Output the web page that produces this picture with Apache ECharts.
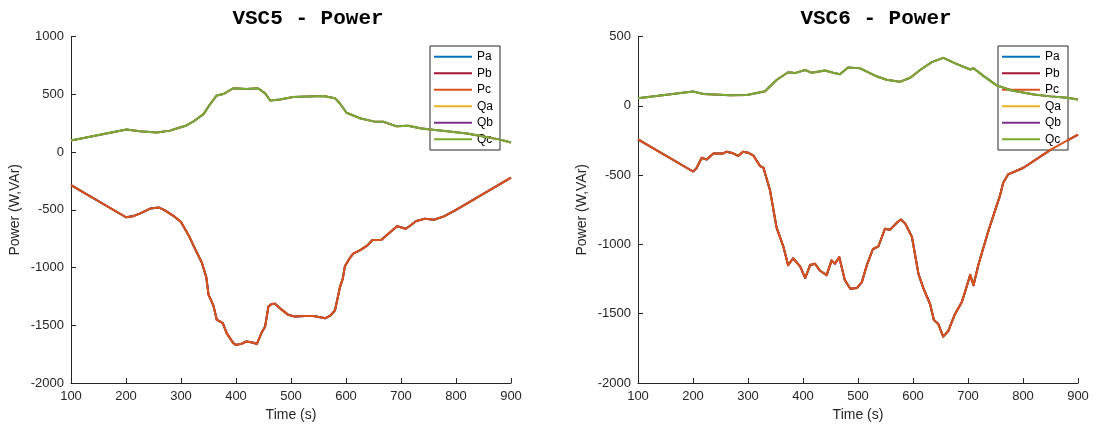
<!DOCTYPE html>
<html>
<head>
<meta charset="utf-8">
<script src="https://cdn.jsdelivr.net/npm/echarts@6/dist/echarts.min.js"></script>
<style>
  html, body { margin: 0; padding: 0; background: #fff; }
</style>
</head>
<body>
<div id="main" style="width:1096px;height:427px;"></div>

<script type="text/javascript">
// VSC5 - active power (Pa, Pb, Pc overlap)
var vsc5_p_t = [100, 200, 212, 225, 244, 260, 270, 289, 300, 314, 324, 338, 346, 350, 359, 365, 376, 383, 395, 400, 410, 419, 430, 438, 447, 453, 459, 465, 471, 483, 495, 507, 525, 541, 555, 562, 572, 580, 589, 594, 598, 606, 613, 626, 639, 648, 664, 677, 693, 709, 728, 744, 760, 778, 797, 900];
var vsc5_p   = [-287, -565, -557, -533, -490, -481, -504, -562, -606, -722, -823, -959, -1084, -1235, -1330, -1452, -1481, -1568, -1655, -1670, -1660, -1640, -1650, -1662, -1560, -1510, -1337, -1315, -1313, -1365, -1410, -1425, -1420, -1420, -1432, -1440, -1415, -1370, -1170, -1100, -990, -925, -880, -850, -809, -762, -762, -707, -643, -664, -597, -577, -586, -557, -510, -222];
// VSC5 - reactive power (Qa, Qb, Qc overlap)
var vsc5_q_t = [100, 201, 225, 256, 280, 292, 310, 322, 341, 353, 365, 377, 395, 419, 440, 453, 462, 480, 504, 530, 559, 580, 589, 601, 625, 650, 668, 692, 713, 735, 753, 780, 820, 850, 880, 900];
var vsc5_q   = [100, 195, 180, 168, 185, 203, 230, 262, 328, 415, 490, 502, 552, 545, 552, 508, 446, 455, 476, 480, 485, 466, 420, 340, 293, 265, 262, 222, 228, 205, 195, 182, 160, 135, 107, 82];

// VSC6 - active power
var vsc6_p_t = [100, 200, 206, 216, 225, 237, 254, 261, 273, 282, 291, 300, 310, 322, 328, 340, 352, 364, 373, 382, 395, 404, 413, 422, 431, 443, 452, 458, 466, 476, 486, 498, 507, 516, 527, 537, 549, 558, 572, 578, 586, 598, 610, 619, 631, 638, 646, 655, 664, 676, 689, 695, 704, 710, 719, 737, 749, 758, 764, 773, 801, 852, 900];
var vsc6_p   = [-242, -474, -452, -375, -388, -345, -345, -331, -343, -362, -331, -338, -360, -435, -446, -610, -879, -1012, -1150, -1100, -1160, -1243, -1148, -1140, -1190, -1222, -1115, -1140, -1092, -1257, -1320, -1315, -1272, -1150, -1035, -1015, -887, -895, -838, -820, -850, -945, -1215, -1317, -1430, -1545, -1575, -1665, -1625, -1505, -1413, -1338, -1220, -1295, -1145, -903, -758, -650, -555, -495, -447, -312, -208];
// VSC6 - reactive power
var vsc6_q_t = [100, 200, 219, 267, 298, 316, 331, 352, 373, 385, 404, 416, 440, 455, 467, 482, 504, 531, 552, 576, 595, 613, 634, 655, 679, 704, 710, 728, 752, 780, 820, 850, 880, 900];
var vsc6_q   = [54, 103, 85, 76, 78, 92, 105, 186, 242, 236, 258, 238, 255, 238, 228, 277, 270, 217, 188, 173, 202, 258, 315, 346, 302, 262, 271, 216, 147, 110, 82, 68, 58, 46];

var names  = ['Pa', 'Pb', 'Pc', 'Qa', 'Qb', 'Qc'];
var colors = ['#0072BD', '#A2142F', '#D95319', '#EDB120', '#7E2F8E', '#77AC30'];
var titles = ['VSC5 - Power', 'VSC6 - Power'];
var xTicks = [100, 900, 100];        // min, max, interval
var yTicks = [[-2000, 1000, 500], [-2000, 500, 500]];

function zip(t, v) {
    var out = [];
    for (var i = 0; i < t.length; i++) out.push([t[i], v[i]]);
    return out;
}

var curves = [
    { p: zip(vsc5_p_t, vsc5_p), q: zip(vsc5_q_t, vsc5_q) },
    { p: zip(vsc6_p_t, vsc6_p), q: zip(vsc6_q_t, vsc6_q) }
];

var axisColor = '#262626';
var font = 'Liberation Sans, Arial, sans-serif';

var myChart = echarts.init(document.getElementById('main'));

var grids = [
    { left: 71, top: 36.5, width: 440, height: 347 },
    { left: 638, top: 36.5, width: 440, height: 347 }
];
var titleX = [308, 876];
var legendX = [430, 998];

var option = {
    animation: false,
    backgroundColor: '#fff',
    title: [],
    legend: [],
    grid: grids,
    xAxis: [],
    yAxis: [],
    series: []
};

for (var g = 0; g < 2; g++) {
    option.title.push({
        text: titles[g],
        left: titleX[g],
        top: 8,
        padding: 0,
        textAlign: 'center',
        textStyle: { fontFamily: 'Liberation Mono, Courier New, monospace', fontWeight: 'bold', fontSize: 21, color: '#000' }
    });
    option.legend.push({
        data: names,
        orient: 'vertical',
        left: legendX[g],
        top: 46,
        icon: 'rect',
        itemWidth: 38,
        itemHeight: 2,
        itemGap: 2.5,
        padding: [3.75, 7, 3.75, 4],
        borderColor: axisColor,
        borderWidth: 1,
        backgroundColor: '#fff',
        selectedMode: false,
        textStyle: { fontFamily: font, fontSize: 12, color: '#000', lineHeight: 14 }
    });
    option.xAxis.push({
        type: 'value',
        gridIndex: g,
        min: xTicks[0], max: xTicks[1], interval: xTicks[2],
        name: 'Time (s)',
        nameLocation: 'middle',
        nameGap: 25,
        nameTextStyle: { fontFamily: font, fontSize: 14, color: axisColor },
        axisLine: { show: true, onZero: false, lineStyle: { color: axisColor, width: 1 } },
        axisTick: { show: true, inside: true, length: 5, lineStyle: { color: axisColor } },
        axisLabel: { fontFamily: font, fontSize: 13, color: axisColor, margin: 7, formatter: '{value}' },
        splitLine: { show: false }
    });
    option.yAxis.push({
        type: 'value',
        gridIndex: g,
        min: yTicks[g][0], max: yTicks[g][1], interval: yTicks[g][2],
        name: 'Power (W,VAr)',
        nameLocation: 'middle',
        nameGap: 49,
        nameTextStyle: { fontFamily: font, fontSize: 14, color: axisColor },
        axisLine: { show: true, onZero: false, lineStyle: { color: axisColor, width: 1 } },
        axisTick: { show: true, inside: true, length: 5, lineStyle: { color: axisColor } },
        axisLabel: { fontFamily: font, fontSize: 13, color: axisColor, margin: 7, formatter: function (v) { return String(v); } },
        splitLine: { show: false }
    });
    for (var k = 0; k < names.length; k++) {
        option.series.push({
            name: names[k],
            type: 'line',
            xAxisIndex: g,
            yAxisIndex: g,
            data: k < 3 ? curves[g].p : curves[g].q,
            showSymbol: false,
            symbol: 'none',
            smooth: false,
            itemStyle: { color: colors[k] },
            lineStyle: { color: colors[k], width: 2, join: 'round' },
            z: 2 + k
        });
    }
}

myChart.setOption(option);
</script>
</body>
</html>
